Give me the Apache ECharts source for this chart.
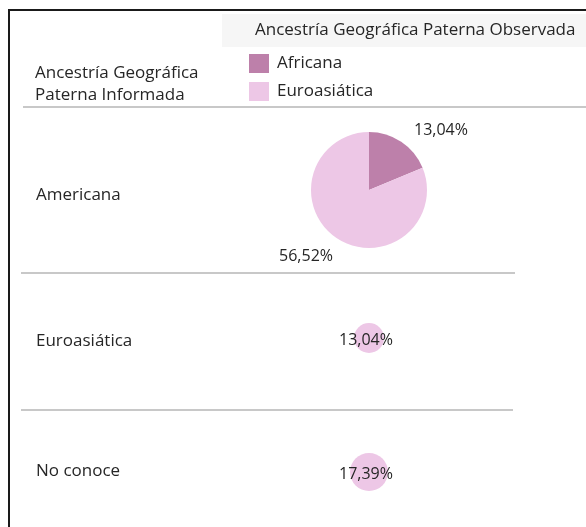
<!DOCTYPE html>
<html>
<head>
<meta charset="utf-8">
<script src="https://cdn.jsdelivr.net/npm/echarts@6/dist/echarts.min.js"></script>
<style>
    html, body { margin: 0; padding: 0; background: #fff; }
    #chart { width: 586px; height: 527px; }
</style>
</head>
<body>
<div id="chart"></div>
<script>
    // filas: ancestría paterna informada
    const rows = ['Americana', 'Euroasiática', 'No conoce']
    // columnas: ancestría paterna observada
    const observed = ['Africana', 'Euroasiática']
    // % del total por fila
    const africana = [13.04, 0, 0]
    const euroasiatica = [56.52, 13.04, 17.39]

    const colors = ['#bd80aa', '#edc7e6']
    const font = '"Open Sans"'
    const textColor = '#262626'

    // posición vertical y radio de cada fila
    const rowY = [190, 338, 472]
    const rowLabelY = [195, 341, 471]
    const rowR = [58, 15, 19]
    const pieX = 369

    let series = rows.map((name, i) => {
        let data = []
        if (africana[i] > 0) data.push({ name: observed[0], value: africana[i] })
        if (euroasiatica[i] > 0) data.push({ name: observed[1], value: euroasiatica[i] })
        let single = data.length == 1
        return {
            name: name,
            type: 'pie',
            center: [pieX, rowY[i]],
            radius: [0, rowR[i]],
            startAngle: 90,
            clockwise: true,
            silent: true,
            animation: false,
            data: data,
            itemStyle: { borderWidth: 0 },
            label: {
                show: true,
                position: single ? 'center' : 'outside',
                formatter: p => p.value.toFixed(2).replace('.', ',') + '%',
                fontFamily: font,
                fontSize: 16,
                color: textColor
            },
            labelLine: { show: false, length: 14, length2: 0 },
            // etiquetas un poco desplazadas como en el original
            labelLayout: p => {
                if (single) return { dx: -3, dy: 2 }
                if (p.dataIndex == 1) return { dx: 9, dy: 7 }
                return {}
            }
        }
    })

    let txt = (x, y, text) => ({
        type: 'text', x: x, y: y,
        style: { text: text, font: '17px ' + font, fill: textColor, verticalAlign: 'middle' }
    })

    let graphics = [
        // marco
        { type: 'line', shape: { x1: 9, y1: 10, x2: 586, y2: 10 }, style: { stroke: '#1a1a1a', lineWidth: 2 } },
        { type: 'line', shape: { x1: 9, y1: 9, x2: 9, y2: 527 }, style: { stroke: '#1a1a1a', lineWidth: 2 } },
        // cabecera de columnas
        { type: 'rect', shape: { x: 222, y: 14, width: 364, height: 33 }, style: { fill: '#f6f6f6' } },
        txt(255, 30, 'Ancestría Geográfica Paterna Observada'),
        // cabecera de filas
        txt(35, 73, 'Ancestría Geográfica'),
        txt(35, 95, 'Paterna Informada'),
        // separadores
        { type: 'line', shape: { x1: 23, y1: 107, x2: 586, y2: 107 }, style: { stroke: '#c8c8c8', lineWidth: 2 } },
        { type: 'line', shape: { x1: 21, y1: 273, x2: 515, y2: 273 }, style: { stroke: '#c8c8c8', lineWidth: 2 } },
        { type: 'line', shape: { x1: 21, y1: 410, x2: 513, y2: 410 }, style: { stroke: '#c8c8c8', lineWidth: 2 } }
    ]
    rows.forEach((name, i) => {
        graphics.push(txt(36, rowLabelY[i], name))
    })

    let option = {
        backgroundColor: '#fff',
        color: colors,
        legend: {
            data: observed,
            orient: 'vertical',
            left: 249,
            top: 54,
            padding: 0,
            icon: 'rect',
            itemWidth: 20,
            itemHeight: 19,
            itemGap: 9,
            selectedMode: false,
            textStyle: { fontFamily: font, fontSize: 17, color: textColor, lineHeight: 19, padding: [0, 0, 0, 3] }
        },
        graphic: graphics,
        series: series
    }

    let chart = echarts.init(document.getElementById('chart'), null, { renderer: 'canvas' })
    chart.setOption(option)
</script>
</body>
</html>
